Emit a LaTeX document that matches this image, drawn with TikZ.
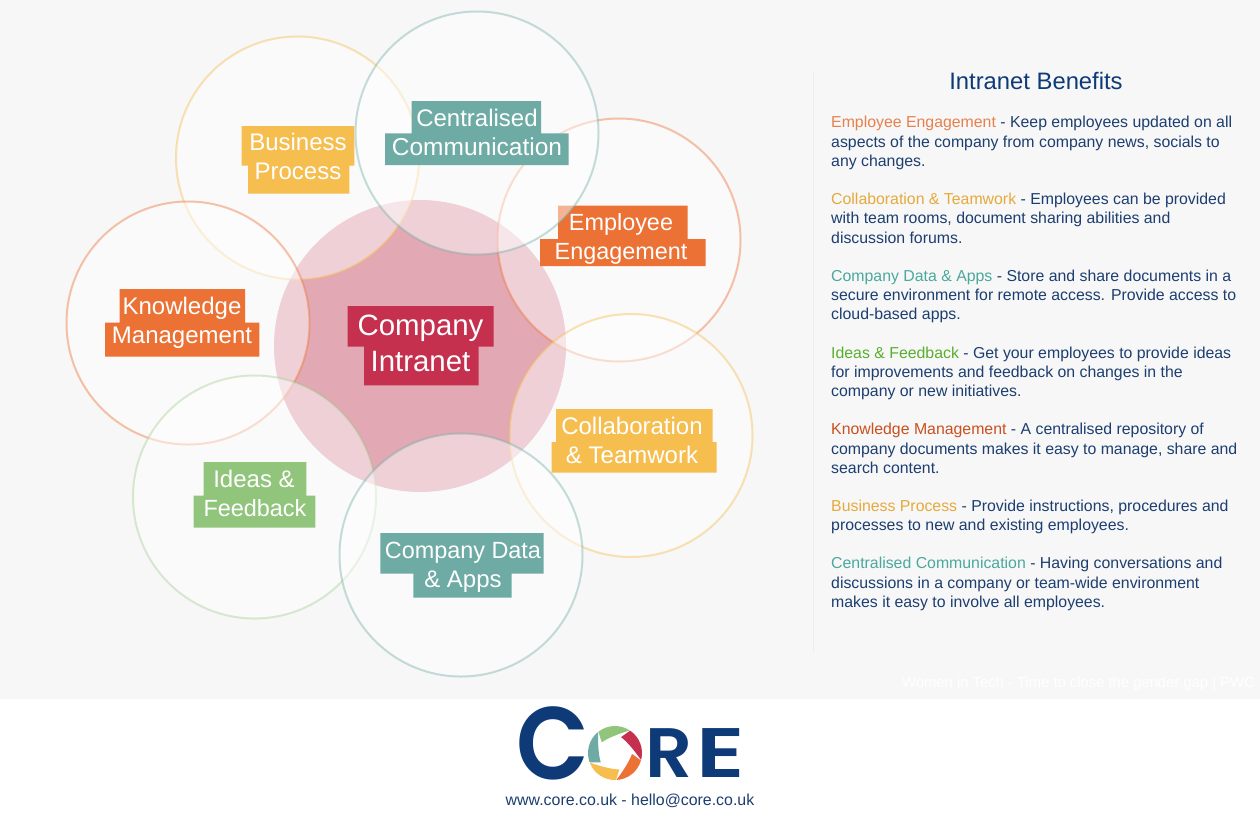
\documentclass[tikz,border=0pt]{standalone}
\usepackage{fontspec}
\setmainfont{Liberation Sans}
\newfontfamily\logofont{Poppins SemiBold}
\definecolor{bgc}{HTML}{F7F7F7}
\definecolor{navy}{HTML}{1C3E70}
\definecolor{logonavy}{HTML}{0E3B78}
\definecolor{orangeb}{HTML}{EC7135}
\definecolor{yellowb}{HTML}{F6BD4F}
\definecolor{tealb}{HTML}{6EABA5}
\definecolor{greenb}{HTML}{92C57C}
\definecolor{redb}{HTML}{C5304F}
\definecolor{coreb}{HTML}{E2A8B3}
\definecolor{hOrange}{HTML}{E8804D}
\definecolor{hYellow}{HTML}{E6A93C}
\definecolor{hTeal}{HTML}{4AA89E}
\definecolor{hGreen}{HTML}{5AAE2E}
\definecolor{hRust}{HTML}{C9501F}
\tikzset{
  petal/.style={circle,minimum size=243pt,inner sep=0pt,line width=2pt,fill=white,fill opacity=.47,draw opacity=.42},
  lbl/.style={anchor=base,inner sep=0pt,text=white,font=\fontsize{24}{24}\selectfont},
  biglbl/.style={anchor=base,inner sep=0pt,text=white,font=\fontsize{29.4}{30}\selectfont},
  bodyline/.style={anchor=base west,inner sep=0pt,text=navy,font=\fontsize{15.85}{16}\selectfont},
}
\newcommand{\bodytext}[3]{\node[bodyline] (#1) at (831,#2) {#3};}
\begin{document}
\begin{tikzpicture}[x=1pt,y=-1pt]
\useasboundingbox (0,0) rectangle (1260,820);
\fill[white] (0,0) rectangle (1260,820);
\fill[bgc] (0,0) rectangle (1260,699);
% central
\node[circle,minimum size=292pt,inner sep=0pt,fill=coreb] (core) at (420,346) {};
% Employee Engagement
\node[petal,draw=orangeb] (cEmp) at (619,240) {};
\fill[orangeb] (558,205.5) rectangle (687.5,240) (540,239) rectangle (705.5,266);
\node[lbl,font=\fontsize{23.4}{24}\selectfont] (tEmp1) at (621,230) {Employee};
\node[lbl,font=\fontsize{23.4}{24}\selectfont] (tEmp2) at (621,259) {Engagement};
% Business
\node[petal,draw=yellowb] (cBus) at (297.5,158) {};
% Centralised
\node[petal,draw=tealb,draw opacity=.4] (cCen) at (477,133) {};
\fill[yellowb] (241.7,126) rectangle (354.3,165.7) (248,165) rectangle (349.3,193.7);
\node[lbl] (tBus1) at (298,150) {Business};
\node[lbl] (tBus2) at (298,179) {Process};
\fill[tealb] (411.7,101) rectangle (541,134) (385,133.3) rectangle (568.7,165);
\node[lbl] (tCen1) at (477,126) {Centralised};
\node[lbl,font=\fontsize{24.5}{25}\selectfont] (tCen2) at (477,155) {Communication};
% Knowledge
\node[petal,draw=orangeb] (cKno) at (188,323) {};
\fill[orangeb] (119.7,289) rectangle (245,323) (105,322.7) rectangle (259.3,356.7);
\node[lbl] (tKno1) at (182,314) {Knowledge};
\node[lbl] (tKno2) at (182,343) {Management};
% Ideas
\node[petal,draw=greenb,draw opacity=.33] (cIde) at (254.5,497) {};
\fill[greenb] (203.7,462) rectangle (306.3,496) (193.7,495.7) rectangle (315.3,527.7);
\node[lbl] (tIde1) at (254,487) {Ideas \&};
\node[lbl,font=\fontsize{23.4}{24}\selectfont] (tIde2) at (255,516) {Feedback};
% Collaboration
\node[petal,draw=yellowb] (cCol) at (631,435.5) {};
\fill[yellowb] (556,409) rectangle (712.7,442.5) (551.7,442) rectangle (716.7,472.7);
\node[lbl] (tCol1) at (632,434) {Collaboration};
\node[lbl] (tCol2) at (632,463) {\& Teamwork};
% Company data
\node[petal,draw=tealb,draw opacity=.4] (cDat) at (461,555) {};
\fill[tealb] (380.3,533) rectangle (543.7,573.5) (413.3,573) rectangle (511.7,597.7);
\node[lbl,font=\fontsize{23.4}{24}\selectfont] (tDat1) at (463,558) {Company Data};
\node[lbl] (tDat2) at (463,587) {\& Apps};
% centre label
\fill[redb] (347.7,306) rectangle (493.7,346.5) (364,346) rectangle (478.7,385.3);
\node[biglbl] (tCor1) at (420.5,335) {Company};
\node[biglbl] (tCor2) at (420.5,371.5) {Intranet};
% right panel
\draw[line width=1pt,color=black!7] (813,72) coordinate (ruleA) -- (813,653) coordinate (ruleB);
\node[anchor=base,inner sep=0pt,text=logonavy,font=\fontsize{23.8}{24}\selectfont] (title) at (1036,89.5) {Intranet Benefits};
\bodytext{a1}{127.5}{\textcolor{hOrange}{Employee Engagement} - Keep employees updated on all}
\bodytext{a2}{147}{aspects of the company from company news, socials to}
\bodytext{a3}{166}{any changes.}
\bodytext{b1}{204.5}{\textcolor{hYellow}{Collaboration \& Teamwork} - Employees can be provided}
\bodytext{b2}{223.5}{with team rooms, document sharing abilities and}
\bodytext{b3}{243}{discussion forums.}
\bodytext{c1}{281}{\textcolor{hTeal}{Company Data \& Apps} - Store and share documents in a}
\bodytext{c2}{300.5}{secure environment for remote access. Provide access to}
\bodytext{c3}{319.5}{cloud-based apps.}
\bodytext{d1}{358}{\textcolor{hGreen}{Ideas \& Feedback} - Get your employees to provide ideas}
\bodytext{d2}{377}{for improvements and feedback on changes in the}
\bodytext{d3}{396.5}{company or new initiatives.}
\bodytext{e1}{434.5}{\textcolor{hRust}{Knowledge Management} - A centralised repository of}
\bodytext{e2}{454}{company documents makes it easy to manage, share and}
\bodytext{e3}{473}{search content.}
\bodytext{f1}{511}{\textcolor{hYellow}{Business Process} - Provide instructions, procedures and}
\bodytext{f2}{530.5}{processes to new and existing employees.}
\bodytext{g1}{568.5}{\textcolor{hTeal}{Centralised Communication} - Having conversations and}
\bodytext{g2}{588}{discussions in a company or team-wide environment}
\bodytext{g3}{607}{makes it easy to involve all employees.}
\node[anchor=base east,inner sep=0pt,text=white,font=\fontsize{14.8}{15}\selectfont] (credit) at (1255,687.5) {Women in Tech - Time to close the gender gap | PWC};
% logo
\node[anchor=base west,inner sep=0pt,text=logonavy,font=\logofont\fontsize{103}{103}\selectfont,xscale=.92] (logoC) at (516,779) {C};
\node[anchor=base west,inner sep=0pt,text=logonavy,font=\logofont\fontsize{70}{70}\selectfont,xscale=1.05] (logoR) at (645.5,777) {R};
\node[anchor=base west,inner sep=0pt,text=logonavy,font=\logofont\fontsize{70}{70}\selectfont,xscale=1.3] (logoE) at (696.5,777) {E};
\begin{scope}[shift={(615,753)},yscale=-1]
\foreach \ang/\col in {0/greenb,-72/redb,-144/orangeb,-216/yellowb,-288/tealb}{
  \fill[\col] (128+\ang:27) arc[start angle=128+\ang,end angle=57+\ang,radius=27]
     .. controls (72+\ang:21) and (110+\ang:17) .. (141+\ang:17) -- cycle;
}
\end{scope}
\node[anchor=base,inner sep=0pt,text=navy,font=\fontsize{15.9}{16}\selectfont] (contact) at (630,805) {www.core.co.uk - hello@core.co.uk};
\end{tikzpicture}
\end{document}
